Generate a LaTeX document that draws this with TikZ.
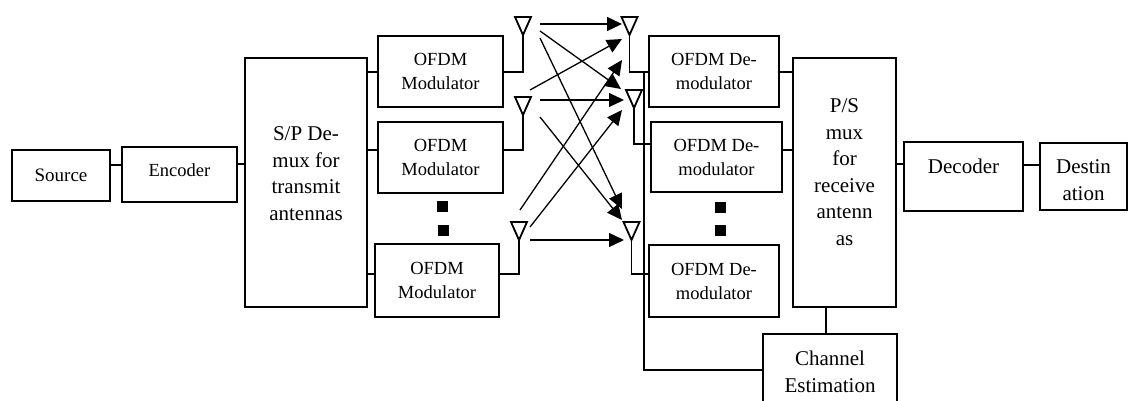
\documentclass[tikz,border=0pt]{standalone}
\usepackage{fontspec}
\setmainfont{Liberation Serif}
\usetikzlibrary{arrows.meta,calc}
\newcommand\antennaAt[1]{\draw[antshape] ($(#1)+(-8,-18)$) -- ($(#1)+(8,-18)$) -- (#1) -- cycle;}
\begin{document}
\begin{tikzpicture}[x=1pt,y=-1pt,
  blk/.style={draw,line width=2.6pt,inner sep=0pt},
  big/.style={font=\fontsize{21}{26.5}\selectfont,align=center},
  sml/.style={font=\fontsize{18.5}{24}\selectfont,align=center},
  srcf/.style={font=\fontsize{19}{24}\selectfont,align=center},
  wire/.style={line width=1.2pt},
  sig/.style={line width=1.3pt,-{Triangle[length=15pt,width=14pt]}},
  antshape/.style={line width=1.8pt,line join=miter},
  dotsq/.style={fill=black,minimum size=11pt,inner sep=0pt}
]
\useasboundingbox (0,0) rectangle (1129,401);

% blocks
\node[blk,srcf,minimum width=98pt,minimum height=51pt] (src) at (61,175.5) {Source};
\node[blk,minimum width=115pt,minimum height=55pt,label={[sml,yshift=4.5pt]center:{Encoder}}] (enc) at (179.5,174.5) {};
\node[blk,minimum width=122pt,minimum height=249pt,label={[big,yshift=9pt]center:{S/P De-\\mux for\\transmit\\antennas}}] (sp) at (306,182.5) {};
\node[blk,sml,minimum width=125pt,minimum height=71pt] (mod1) at (440.5,71.5) {OFDM\\Modulator};
\node[blk,sml,minimum width=125pt,minimum height=71pt] (mod2) at (440.5,157.5) {OFDM\\Modulator};
\node[blk,sml,minimum width=124pt,minimum height=73pt] (mod3) at (437,280.5) {OFDM\\Modulator};
\node[blk,sml,minimum width=130pt,minimum height=71pt] (dem1) at (714,71.5) {OFDM De-\\modulator};
\node[blk,sml,minimum width=131pt,minimum height=70pt] (dem2) at (716.5,157) {OFDM De-\\modulator};
\node[blk,sml,minimum width=130pt,minimum height=72pt] (dem3) at (714,281) {OFDM De-\\modulator};
\node[blk,minimum width=103pt,minimum height=249pt,label={[big,yshift=10.5pt]center:{P/S\\mux\\for\\receive\\antenn\\as}}] (ps) at (844.5,182.5) {};
\node[blk,minimum width=119pt,minimum height=69pt,label={[big,yshift=10pt]center:{Decoder}}] (dec) at (963.5,176.5) {};
\node[blk,minimum width=87pt,minimum height=67pt,label={[big,yshift=-3.5pt]center:{Destin\\ation}}] (dst) at (1083.5,176.5) {};
\node[blk,big,minimum width=134pt,minimum height=76pt] (ce) at (830,372) {Channel\\Estimation};

% dots
\node[dotsq] (d1) at (442.5,206.5) {};
\node[dotsq] (d2) at (443.5,230) {};
\node[dotsq] (d3) at (720.5,207) {};
\node[dotsq] (d4) at (720.5,230.5) {};

% antennas (apex points)
\coordinate (t1) at (523,35);
\coordinate (t2) at (523,115);
\coordinate (t3) at (519,240);
\coordinate (r1) at (629.5,35);
\coordinate (r2) at (634,108);
\coordinate (r3) at (631.5,240);
\antennaAt{t1}\antennaAt{t2}\antennaAt{t3}
\antennaAt{r1}\antennaAt{r2}\antennaAt{r3}

% helper levels
\coordinate (yA) at (0,72);
\coordinate (yB) at (0,150);
\coordinate (yC) at (0,274);
\coordinate (yD) at (0,144);
\coordinate (y164) at (0,164);
\coordinate (y165) at (0,165);
\coordinate (y370) at (0,370);
\coordinate (x826) at (826,0);
\coordinate (bus) at (644,72);

% wires
\draw[wire] (src.east |- y165) -- (enc.west |- y165);
\draw[wire] (enc.east |- y164) -- (sp.west |- y164);
\draw[wire] (sp.east |- yA) -- (mod1.west |- yA);
\draw[wire] (sp.east |- yB) -- (mod2.west |- yB);
\draw[wire] (sp.east |- yC) -- (mod3.west |- yC);
\draw[wire] (mod1.east |- yA) -| (t1);
\draw[wire] (mod2.east |- yB) -| (t2);
\draw[wire] (mod3.east |- yC) -| (t3);
\draw[wire] (r1) |- (dem1.west |- yA);
\draw[wire] (r2) |- (dem2.west |- yD);
\draw[wire] (r3) |- (dem3.west |- yC);
\draw[wire] (bus) |- (ce.west |- y370);
\draw[wire] (dem1.east |- yA) -- (ps.west |- yA);
\draw[wire] (dem2.east |- yB) -- (ps.west |- yB);
\draw[wire] (ps.east |- y164) -- (dec.west |- y164);
\draw[wire] (dec.east |- y165) -- (dst.west |- y165);
\draw[wire] (ps.south -| x826) -- (ce.north -| x826);

% radio links
\coordinate (a1s) at (540,24);  \coordinate (a1e) at (622,24);
\coordinate (a2s) at (540,31);  \coordinate (a2e) at (621,89);
\coordinate (a3s) at (540,38);  \coordinate (a3e) at (622,209);
\coordinate (a4s) at (540,117); \coordinate (a4e) at (622,220);
\coordinate (a5s) at (540,100); \coordinate (a5e) at (624,100);
\coordinate (a6s) at (530,90);  \coordinate (a6e) at (622,39);
\coordinate (a7s) at (520,210); \coordinate (a7e) at (622,60);
\coordinate (a8s) at (530,227); \coordinate (a8e) at (622,110);
\coordinate (a9s) at (530,240); \coordinate (a9e) at (624,240);
\foreach \i in {1,...,9} {\draw[sig] (a\i s) -- (a\i e);}
\end{tikzpicture}
\end{document}
